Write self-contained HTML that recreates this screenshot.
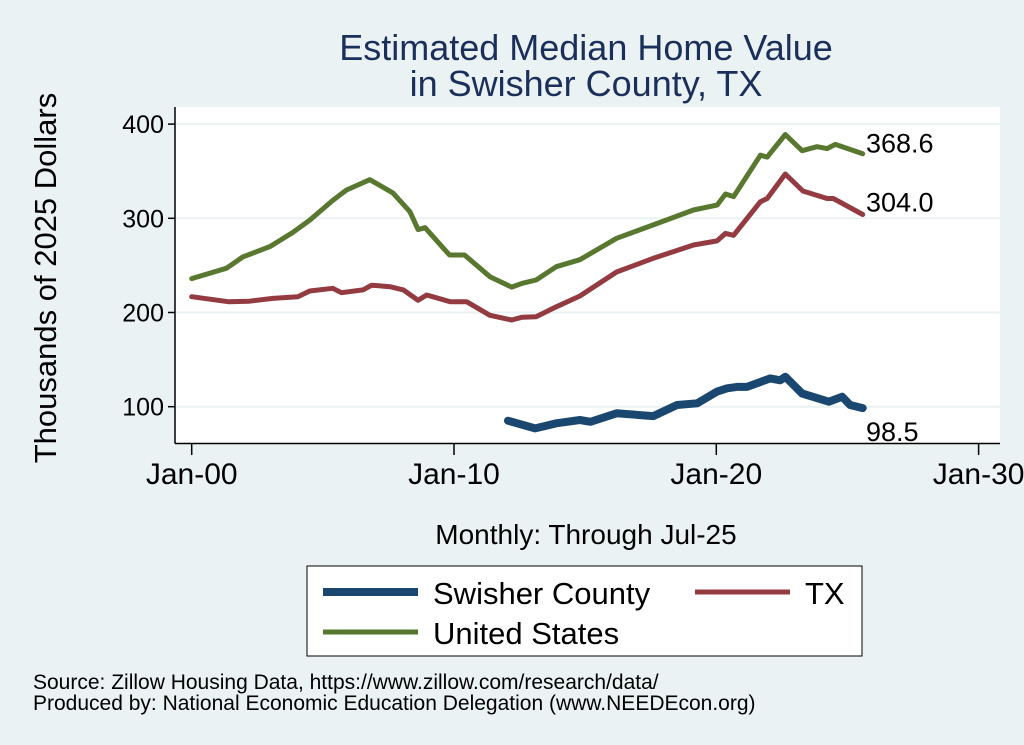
<!DOCTYPE html>
<html><head><meta charset="utf-8"><style>
body{margin:0;background:#eaf2f3;}
svg{display:block;font-family:"Liberation Sans",sans-serif;}
</style></head><body>
<svg width="1024" height="745" viewBox="0 0 1024 745">
<rect x="0" y="0" width="1024" height="745" fill="#eaf2f3"/>
<text x="586" y="60" font-size="36" fill="#1a2f5a" text-anchor="middle">Estimated Median Home Value</text>
<text x="586" y="96" font-size="36" fill="#1a2f5a" text-anchor="middle">in Swisher County, TX</text>
<rect x="175" y="107" width="825" height="336" fill="#ffffff"/>
<g id="grid"></g>
<g id="series"></g>
<line x1="175" y1="107" x2="175" y2="443.5" stroke="#000" stroke-width="1.5"/>
<line x1="175" y1="443.5" x2="1000" y2="443.5" stroke="#000" stroke-width="1.5"/>
<g id="axes"></g>
<text transform="translate(56,278) rotate(-90)" font-size="31" text-anchor="middle" fill="#000">Thousands of 2025 Dollars</text>
<text x="586" y="544" font-size="28" text-anchor="middle" fill="#000">Monthly: Through Jul-25</text>
<g>
<rect x="307" y="566" width="555" height="90" fill="#fff" stroke="#000" stroke-width="1"/>
<line x1="323" y1="592" x2="418" y2="592" stroke="#1a476f" stroke-width="8"/>
<text x="433" y="604" font-size="31">Swisher County</text>
<line x1="695" y1="592" x2="790" y2="592" stroke="#943b41" stroke-width="5"/>
<text x="805" y="604" font-size="31">TX</text>
<line x1="323" y1="632" x2="418" y2="632" stroke="#58772f" stroke-width="5"/>
<text x="433" y="644" font-size="31">United States</text>
</g>
<text x="33" y="689" font-size="21">Source: Zillow Housing Data, https://www.zillow.com/research/data/</text>
<text x="33" y="710" font-size="21">Produced by: National Economic Education Delegation (www.NEEDEcon.org)</text>
</svg>
<script>
const yTicks=[100,200,300,400];
const xTicks=[0,10,20,30];
const xTickLabels=["Jan-00","Jan-10","Jan-20","Jan-30"];
const usT=[0,1.33,1.95,2.98,3.86,4.5,5.38,5.9,6.79,7.67,8.32,8.63,8.9,9.83,10.4,11.37,12.2,12.6,13.13,13.9,14.8,16.2,17.6,19.13,20.03,20.35,20.66,21.68,21.94,22.63,23.27,23.84,24.22,24.54,25.58];
const usV=[236,247,259,270,285,298,319,330,341,327,307,288,290,261,261,238,227,231,234.5,248.6,256,278.8,293,308.8,314,325.8,323,367,365,389,371.8,376,374,378.5,368.6];
const txT=[0,1.39,2.2,3.09,4.05,4.5,5.38,5.71,6.53,6.86,7.56,8.07,8.63,8.96,9.85,10.48,11.37,12.2,12.6,13.13,13.9,14.8,16.2,17.6,19.13,20.03,20.35,20.66,21.68,21.94,22.63,23.3,24.22,24.46,25.58];
const txV=[216.8,211.5,212,215,216.8,222.8,225.7,221,224,229,227.4,224,213,218.6,211.5,211.5,197,192,195,195.5,206,217.5,243,257.5,271.7,276,284,282,317.6,321,347,329,321,321,304];
const swT=[12.06,13.09,13.9,14.8,15.2,16.2,17.6,18.5,19.27,20.03,20.41,20.79,21.17,22.06,22.44,22.63,23.27,24.29,24.8,25.1,25.58];
const swV=[85.1,77,82.4,85.9,84,93,90,101.8,103.6,116,119.5,121,121,130,128,131.8,114,105.3,110.6,101.8,98.5];
const endLabels=["368.6","304.0","98.5"];
const NS="http://www.w3.org/2000/svg";
const X=t=>191.7+t*26.23;
const Y=v=>406.7-(v-100)*0.942;
function mk(tag,attrs,parent,txt){const e=document.createElementNS(NS,tag);for(const k in attrs)e.setAttribute(k,attrs[k]);if(txt!==undefined)e.textContent=txt;parent.appendChild(e);return e;}
const grid=document.getElementById('grid'),axes=document.getElementById('axes'),ser=document.getElementById('series');
yTicks.forEach(v=>{
 const g=mk('line',{x1:176,x2:1000,y1:Y(v),y2:Y(v),stroke:'#eaf2f3','stroke-width':2},grid);
 
 
 const t=mk('line',{x1:168,x2:175,y1:Y(v),y2:Y(v),stroke:'#000','stroke-width':1.5},axes);
 
 
 const l=mk('text',{x:164,y:Y(v)+9,'font-size':25,'text-anchor':'end'},axes,String(v));
 
 
});
xTicks.forEach((t,i)=>{
 const k=mk('line',{x1:X(t),x2:X(t),y1:443,y2:455,stroke:'#000','stroke-width':1.5},axes);
 
 
 const l=mk('text',{x:X(t),y:484,'font-size':30,'text-anchor':'middle'},axes,xTickLabels[i]);
 
 
});
function line(T,V,color,w,name){
 const d=T.map((t,i)=>(i?'L':'M')+X(t).toFixed(1)+','+Y(V[i]).toFixed(1)).join('');
 const p=mk('path',{d:d,fill:'none',stroke:color,'stroke-width':w,'stroke-linejoin':'round','stroke-linecap':'round'},ser);
 
 
}
line(usT,usV,'#58772f',5,'series-united-states');
line(txT,txV,'#943b41',5,'series-tx');
line(swT,swV,'#1a476f',8,'series-swisher-county');
const l1=mk('text',{x:866,y:Y(usV[usV.length-1])-1,'font-size':27},ser,endLabels[0]);


const l2=mk('text',{x:866,y:Y(txV[txV.length-1])-3,'font-size':27},ser,endLabels[1]);


const l3=mk('text',{x:866,y:Y(swV[swV.length-1])+33,'font-size':27},ser,endLabels[2]);


</script>
</body></html>
